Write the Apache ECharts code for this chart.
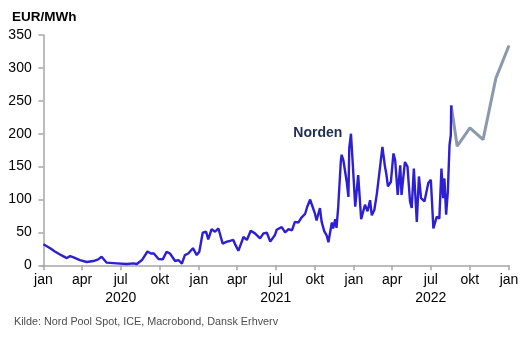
<!DOCTYPE html>
<html>
<head>
<meta charset="utf-8">
<script src="https://cdn.jsdelivr.net/npm/echarts@6/dist/echarts.min.js"></script>
<style>
  html, body { margin: 0; padding: 0; background: #ffffff; }
  #chart { width: 529px; height: 340px; }
</style>
</head>
<body>
<div id="chart"></div>
<script>
// Nordic system spot price (EUR/MWh), sampled points
const spotDates = [
  '2020-01-01','2020-01-17','2020-01-28','2020-02-13','2020-02-25','2020-03-04','2020-03-12','2020-03-27',
  '2020-04-12','2020-04-28','2020-05-09','2020-05-17','2020-05-29','2020-06-22','2020-07-15','2020-07-31',
  '2020-08-08','2020-08-20','2020-09-02','2020-09-10','2020-09-17','2020-09-28','2020-10-08','2020-10-17',
  '2020-10-25','2020-11-06','2020-11-14','2020-11-22','2020-11-29','2020-12-07','2020-12-18','2020-12-27',
  '2021-01-02','2021-01-10','2021-01-18','2021-01-23','2021-01-31','2021-02-08','2021-02-16','2021-02-26',
  '2021-03-08','2021-03-15','2021-03-23','2021-03-28','2021-04-04','2021-04-16','2021-04-24','2021-05-03',
  '2021-05-13','2021-05-25','2021-06-02','2021-06-10','2021-06-18','2021-06-29','2021-07-03','2021-07-15',
  '2021-07-23','2021-07-31','2021-08-08','2021-08-15','2021-08-23','2021-08-31','2021-09-08','2021-09-13',
  '2021-09-20','2021-09-24','2021-10-01','2021-10-05','2021-10-13','2021-10-17','2021-10-23','2021-10-29',
  '2021-11-02','2021-11-04','2021-11-10','2021-11-13','2021-11-18','2021-11-21','2021-11-25','2021-12-01',
  '2021-12-03','2021-12-07','2021-12-11','2021-12-15','2021-12-19','2021-12-21','2021-12-25','2021-12-29',
  '2022-01-04','2022-01-11','2022-01-18','2022-01-27','2022-02-02','2022-02-08','2022-02-12','2022-02-18',
  '2022-02-24','2022-03-03','2022-03-09','2022-03-15','2022-03-18','2022-03-22','2022-03-29','2022-04-04',
  '2022-04-08','2022-04-14','2022-04-20','2022-04-23','2022-05-01','2022-05-07','2022-05-13','2022-05-17',
  '2022-05-22','2022-05-29','2022-06-03','2022-06-08','2022-06-16','2022-06-25','2022-07-01','2022-07-07',
  '2022-07-15','2022-07-21','2022-07-26','2022-07-30','2022-08-02','2022-08-06','2022-08-10','2022-08-14',
  '2022-08-17','2022-08-18'
];
const spotValues = [
  32, 26, 21, 15, 11, 14, 12, 8,
  5, 6.5, 9, 13, 4, 3, 2, 3,
  2, 8, 21, 18, 18, 9.5, 9, 20.5,
  18, 6.5, 8, 2.5, 15.5, 18, 26, 15.5,
  20.5, 49.5, 51, 39.5, 55, 51, 56, 33,
  36, 37, 38.5, 31, 22, 43, 38.5, 52.5,
  48.5, 41, 48.5, 49.5, 36, 46, 54, 58,
  50, 55, 53, 66, 65, 73, 78, 89,
  100, 92, 79, 68, 87, 66, 52, 45,
  35, 43, 65, 56, 70, 57, 89, 157,
  168, 160, 163, 127, 104, 178, 200, 157,
  89, 137, 70, 92, 82, 99, 76, 84,
  109, 147, 180, 150, 140, 120, 127, 170,
  160, 107, 152, 107, 157, 150, 97, 87,
  147, 66, 135, 102, 97, 125, 130, 56,
  74, 71, 147, 102, 132, 77, 112, 183,
  198, 243
];
// Forward prices (monthly contracts)
const forwardDates = ['2022-08-18','2022-09-01','2022-10-01','2022-11-01','2022-12-01','2023-01-01'];
const forwardValues = [243, 181, 209, 191, 284, 334];

const quarterStarts = [
  '2020-01-01','2020-04-01','2020-07-01','2020-10-01',
  '2021-01-01','2021-04-01','2021-07-01','2021-10-01',
  '2022-01-01','2022-04-01','2022-07-01','2022-10-01','2023-01-01'
];
const monthLabels = { 0: 'jan', 3: 'apr', 6: 'jul', 9: 'okt' };
const seriesName = 'Norden';
const unitLabel = 'EUR/MWh';
const sourceText = 'Kilde: Nord Pool Spot, ICE, Macrobond, Dansk Erhverv';
const labelDate = '2021-10-08';
const labelLevel = 201;

// The x axis counts days from 1 Jan 2020 (UTC), so quarter ticks can sit exactly on month starts.
const DAY = 86400000;
const EPOCH = Date.UTC(2020, 0, 1);
const toDay = s => {
  const [y, m, d] = s.split('-').map(Number);
  return (Date.UTC(y, m - 1, d) - EPOCH) / DAY;
};
const fromDay = n => new Date(EPOCH + Math.round(n) * DAY);

const spotData = spotDates.map((d, i) => [toDay(d), spotValues[i]]);
const forwardData = forwardDates.map((d, i) => [toDay(d), forwardValues[i]]);
const tickDays = quarterStarts.map(toDay);

const chart = echarts.init(document.getElementById('chart'), null, { renderer: 'canvas' });
const font = 'Arial, "Liberation Sans", Helvetica, sans-serif';
const axisGray = '#a6a6a6';

chart.setOption({
  animation: false,
  backgroundColor: '#ffffff',
  textStyle: { fontFamily: font },
  grid: { left: 41.7, right: 20, top: 35, bottom: 74.7, containLabel: false },
  title: [
    { text: unitLabel, left: 7, top: 5,
      textStyle: { fontFamily: font, fontSize: 13.5, fontWeight: 'bold', color: '#000000' } },
    { text: sourceText, left: 9, top: 312,
      textStyle: { fontFamily: font, fontSize: 10.8, fontWeight: 'normal', color: '#4d4d4d' } }
  ],
  xAxis: {
    type: 'value',
    min: -4,
    max: toDay('2023-01-01'),
    axisLine: { show: true, onZero: false, lineStyle: { color: axisGray, width: 1.5 } },
    axisTick: { show: true, length: 5, customValues: tickDays, lineStyle: { color: axisGray, width: 1.5 } },
    splitLine: { show: false },
    axisLabel: {
      customValues: tickDays,
      margin: 6,
      fontSize: 14,
      lineHeight: 18,
      color: '#000000',
      fontFamily: font,
      showMinLabel: true,
      showMaxLabel: true,
      hideOverlap: false,
      formatter: function (value) {
        const d = fromDay(value);
        const m = d.getUTCMonth();
        let s = monthLabels[m] || '';
        if (m === 6) s += '\n' + d.getUTCFullYear();
        return s;
      }
    }
  },
  yAxis: {
    type: 'value',
    min: 0,
    max: 350,
    interval: 50,
    axisLine: { show: true, lineStyle: { color: axisGray, width: 1.5 } },
    axisTick: { show: true, length: 5, lineStyle: { color: axisGray, width: 1.5 } },
    splitLine: { show: false },
    axisLabel: { margin: 10, fontSize: 14, color: '#000000', fontFamily: font }
  },
  series: [
    {
      name: 'Forward',
      type: 'line',
      data: forwardData,
      showSymbol: false,
      lineStyle: { color: '#8c99ad', width: 3 },
      z: 2
    },
    {
      name: seriesName,
      type: 'line',
      data: spotData,
      showSymbol: false,
      lineStyle: { color: '#2d1fd3', width: 2.4 },
      z: 3,
      markPoint: {
        symbol: 'circle',
        symbolSize: 0,
        data: [{ coord: [toDay(labelDate), labelLevel] }],
        label: {
          show: true,
          position: 'inside',
          formatter: seriesName,
          fontFamily: font,
          fontSize: 14,
          fontWeight: 'bold',
          color: '#1f2d55'
        }
      }
    }
  ]
});
</script>
</body>
</html>
